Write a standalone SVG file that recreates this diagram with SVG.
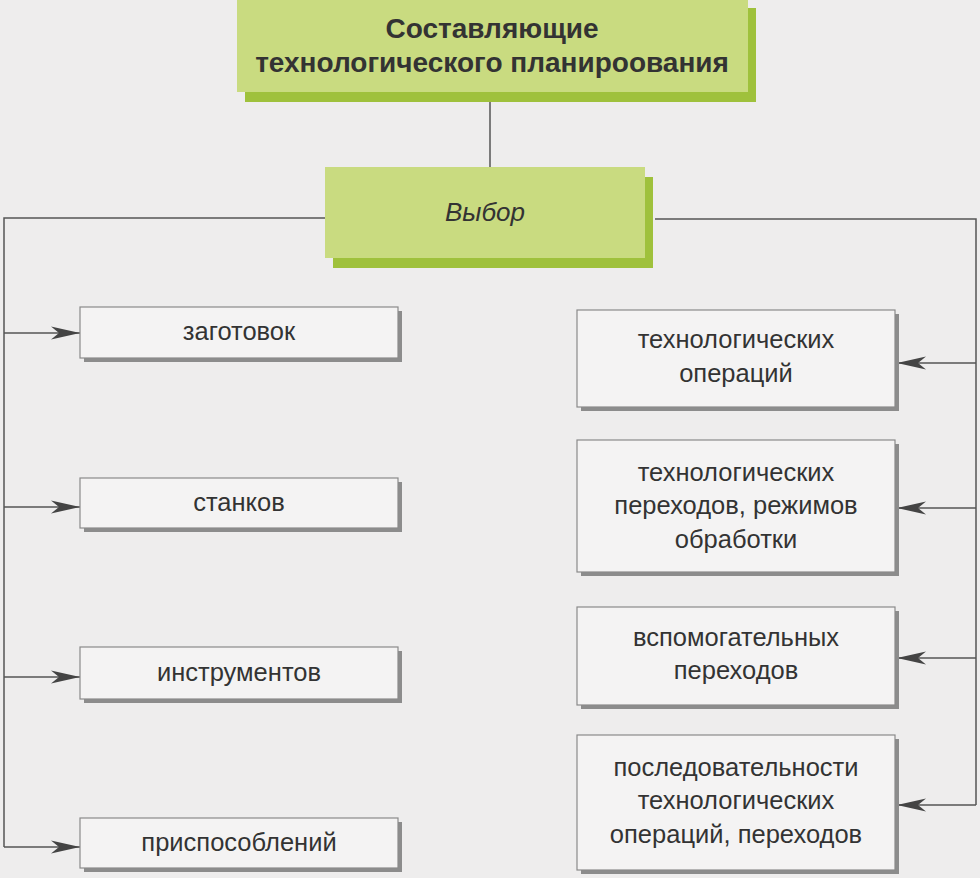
<svg xmlns="http://www.w3.org/2000/svg" width="980" height="878" viewBox="0 0 980 878">
<style>
.bg{fill:#eeeded}
.gmain{fill:#c9db80}
.gshadow{fill:#9fc13c}
.box{fill:#f4f3f3;stroke:#8a8a8a;stroke-width:1.2}
.bshadow{fill:#8c8c8c}
.line{fill:none;stroke:#555;stroke-width:1.5}
.t{font-family:"Liberation Sans",Arial,sans-serif;font-size:25.5px;fill:#333;text-anchor:middle}
.title{font-family:"Liberation Sans",Arial,sans-serif;font-size:28px;font-weight:bold;fill:#333;text-anchor:middle}
.it{font-style:italic;font-size:26px}
</style>
<defs>
<marker id="arr" markerWidth="30" markerHeight="16" refX="29" refY="8" orient="auto" markerUnits="userSpaceOnUse">
<path d="M29,8 L0,1.5 L8,8 L0,14.5 Z" fill="#444"/>
</marker>
</defs>
<rect class="bg" x="0" y="0" width="980" height="878"/>

<g id="connectors">
<line class="line" x1="490" y1="102" x2="490" y2="167"/>
<polyline class="line" points="325,218 4,218 4,847"/>
<polyline class="line" points="655,219 976,219 976,805"/>
<line class="line" x1="4" y1="333" x2="80" y2="333" marker-end="url(#arr)"/>
<line class="line" x1="4" y1="507" x2="80" y2="507" marker-end="url(#arr)"/>
<line class="line" x1="4" y1="677" x2="80" y2="677" marker-end="url(#arr)"/>
<line class="line" x1="4" y1="847" x2="80" y2="847" marker-end="url(#arr)"/>
<line class="line" x1="976" y1="363" x2="897" y2="363" marker-end="url(#arr)"/>
<line class="line" x1="976" y1="508" x2="897" y2="508" marker-end="url(#arr)"/>
<line class="line" x1="976" y1="658" x2="897" y2="658" marker-end="url(#arr)"/>
<line class="line" x1="976" y1="805" x2="897" y2="805" marker-end="url(#arr)"/>
</g>

<g id="title">
<rect class="gshadow" x="245" y="8" width="511" height="94"/>
<rect class="gmain" x="237" y="0" width="511" height="92"/>
<text class="title" x="492" y="38">Составляющие</text>
<text class="title" x="492" y="72">технологического планироования</text>
</g>

<g id="vybor">
<rect class="gshadow" x="333" y="177" width="320" height="91"/>
<rect class="gmain" x="325" y="167" width="320" height="91"/>
<text class="t it" x="485" y="221">Выбор</text>
</g>

<g id="zagotovok">
<rect class="bshadow" x="84" y="311" width="318" height="51"/>
<rect class="box" x="80" y="307" width="318" height="51"/>
<text class="t" x="239" y="340">заготовок</text>
</g>
<g id="stankov">
<rect class="bshadow" x="84" y="482" width="318" height="50"/>
<rect class="box" x="80" y="478" width="318" height="50"/>
<text class="t" x="239" y="511">станков</text>
</g>
<g id="instrumentov">
<rect class="bshadow" x="84" y="651" width="318" height="52"/>
<rect class="box" x="80" y="647" width="318" height="52"/>
<text class="t" x="239" y="681">инструментов</text>
</g>
<g id="prisposobleniy">
<rect class="bshadow" x="84" y="822" width="318" height="50"/>
<rect class="box" x="80" y="818" width="318" height="50"/>
<text class="t" x="239" y="851">приспособлений</text>
</g>

<g id="operaciy">
<rect class="bshadow" x="581" y="314" width="318" height="97"/>
<rect class="box" x="577" y="310" width="318" height="97"/>
<text class="t" x="736" y="348">технологических</text>
<text class="t" x="736" y="382">операций</text>
</g>
<g id="perehodov">
<rect class="bshadow" x="581" y="444" width="318" height="132"/>
<rect class="box" x="577" y="440" width="318" height="132"/>
<text class="t" x="736" y="481">технологических</text>
<text class="t" x="736" y="514">переходов, режимов</text>
<text class="t" x="736" y="548">обработки</text>
</g>
<g id="vspomogatelnyh">
<rect class="bshadow" x="581" y="611" width="318" height="98"/>
<rect class="box" x="577" y="607" width="318" height="98"/>
<text class="t" x="736" y="646">вспомогательных</text>
<text class="t" x="736" y="679">переходов</text>
</g>
<g id="posledovatelnosti">
<rect class="bshadow" x="581" y="739" width="318" height="135"/>
<rect class="box" x="577" y="735" width="318" height="135"/>
<text class="t" x="736" y="776">последовательности</text>
<text class="t" x="736" y="809">технологических</text>
<text class="t" x="736" y="843">операций, переходов</text>
</g>
</svg>
